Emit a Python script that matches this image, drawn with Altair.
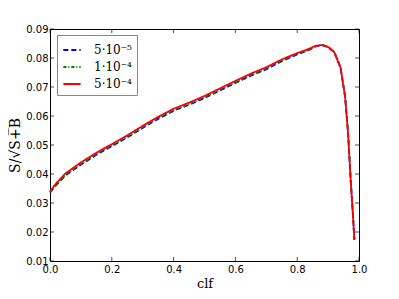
import altair as alt
import pandas as pd

clf = [0.0, 0.02, 0.05, 0.1, 0.15, 0.2, 0.25, 0.3, 0.35, 0.4, 0.45, 0.5, 0.55, 0.6,
       0.65, 0.7, 0.75, 0.8, 0.83, 0.86, 0.88, 0.9, 0.92, 0.94, 0.955, 0.965, 0.973, 0.98, 0.985]
red = [0.0340, 0.0368, 0.0402, 0.0440, 0.0473, 0.0503, 0.0533, 0.0566, 0.0597, 0.0625,
       0.0646, 0.0669, 0.0695, 0.0721, 0.0746, 0.0768, 0.0795, 0.0817, 0.0828, 0.0842,
       0.0845, 0.0838, 0.0820, 0.0768, 0.0667, 0.0535, 0.0380, 0.0266, 0.0173]
blue = [0.0336, 0.0362, 0.0395, 0.0432, 0.0466, 0.0496, 0.0526, 0.0559, 0.0590, 0.0618,
        0.0639, 0.0662, 0.0688, 0.0714, 0.0739, 0.0761, 0.0789, 0.0812, 0.0824, 0.0840,
        0.0845, 0.0838, 0.0820, 0.0768, 0.0667, 0.0535, 0.0380, 0.0266, 0.0173]
green = [0.0337, 0.0364, 0.0397, 0.0434, 0.0468, 0.0498, 0.0528, 0.0561, 0.0592, 0.0620,
         0.0641, 0.0664, 0.0690, 0.0716, 0.0741, 0.0763, 0.0791, 0.0813, 0.0825, 0.0841,
         0.0845, 0.0838, 0.0820, 0.0768, 0.0667, 0.0535, 0.0380, 0.0266, 0.0173]
labels = ["5·10⁻⁵", "1·10⁻⁴", "5·10⁻⁴"]
colors = ["#0000ff", "#008000", "#ff0000"]
dashes = [[5, 3], [3, 2, 1, 2], [1, 0]]
xticks = [0.0, 0.2, 0.4, 0.6, 0.8, 1.0]
yticks = [0.01, 0.02, 0.03, 0.04, 0.05, 0.06, 0.07, 0.08, 0.09]

rows = []
for lab, ys in zip(labels, [blue, green, red]):
    for x, y in zip(clf, ys):
        rows.append({"clf": x, "v": y, "s": lab})
df = pd.DataFrame(rows)

W, H = 309, 232
xs = alt.Scale(domain=[0, 1], nice=False, zero=False)
ys_ = alt.Scale(domain=[0.01, 0.09], nice=False, zero=False)

xaxis = alt.Axis(values=xticks, format=".1f", grid=False, ticks=False,
                 labelPadding=3, labelFont="DejaVu Sans", labelFontSize=10,
                 labelFlush=False, labelOverlap=False,
                 titleFont="DejaVu Serif", titleFontSize=13, titleFontWeight="normal",
                 titlePadding=3, domain=False, labelColor="black", titleColor="black")
yaxis = alt.Axis(values=yticks, format=".2f", grid=False, ticks=False,
                 labelPadding=2, labelFont="DejaVu Sans", labelFontSize=10,
                 labelFlush=False, labelOverlap=False,
                 titleFont="DejaVu Serif", titleFontSize=14, titleFontWeight="normal",
                 titlePadding=3, domain=False, labelColor="black", titleColor="black")

lines = alt.Chart(df).mark_line(strokeWidth=1.8).encode(
    x=alt.X("clf:Q", scale=xs, title="clf", axis=xaxis),
    y=alt.Y("v:Q", scale=ys_, title="S/√S̅+̅B̅", axis=yaxis),
    color=alt.Color("s:N", scale=alt.Scale(domain=labels, range=colors), title=None,
                    legend=alt.Legend(orient="none", legendX=7, legendY=6,
                                      symbolType="stroke", symbolSize=300, symbolStrokeWidth=2,
                                      labelFont="DejaVu Serif", labelFontSize=12,
                                      labelColor="black", labelOffset=12, rowPadding=1,
                                      strokeColor="#888888", fillColor="white", padding=5)),
    strokeDash=alt.StrokeDash("s:N", scale=alt.Scale(domain=labels, range=dashes), legend=None),
    order=alt.Order("clf:Q"),
)

xt = pd.DataFrame({"clf": xticks})
yt = pd.DataFrame({"v": yticks})
tick_b = alt.Chart(xt).mark_tick(color="black", size=4, thickness=1).encode(
    x=alt.X("clf:Q", scale=xs, title="clf", axis=xaxis), y=alt.value(H - 2))
tick_t = alt.Chart(xt).mark_tick(color="black", size=4, thickness=1).encode(
    x=alt.X("clf:Q", scale=xs, title="clf", axis=xaxis), y=alt.value(2))
tick_l = alt.Chart(yt).mark_tick(color="black", size=4, thickness=1).encode(
    y=alt.Y("v:Q", scale=ys_, title="S/√S̅+̅B̅", axis=yaxis), x=alt.value(2))
tick_r = alt.Chart(yt).mark_tick(color="black", size=4, thickness=1).encode(
    y=alt.Y("v:Q", scale=ys_, title="S/√S̅+̅B̅", axis=yaxis), x=alt.value(W - 2))

chart = alt.layer(lines, tick_b, tick_t, tick_l, tick_r).properties(
    width=W, height=H, background="white",
    autosize=alt.AutoSizeParams(type="none"),
    padding={"left": 42, "top": 21, "right": 32, "bottom": 30}
).configure_view(stroke="black", strokeWidth=1).configure_axis(labelOverlap=False)

chart.save("out.html", embed_options={"renderer": "svg", "actions": False})
